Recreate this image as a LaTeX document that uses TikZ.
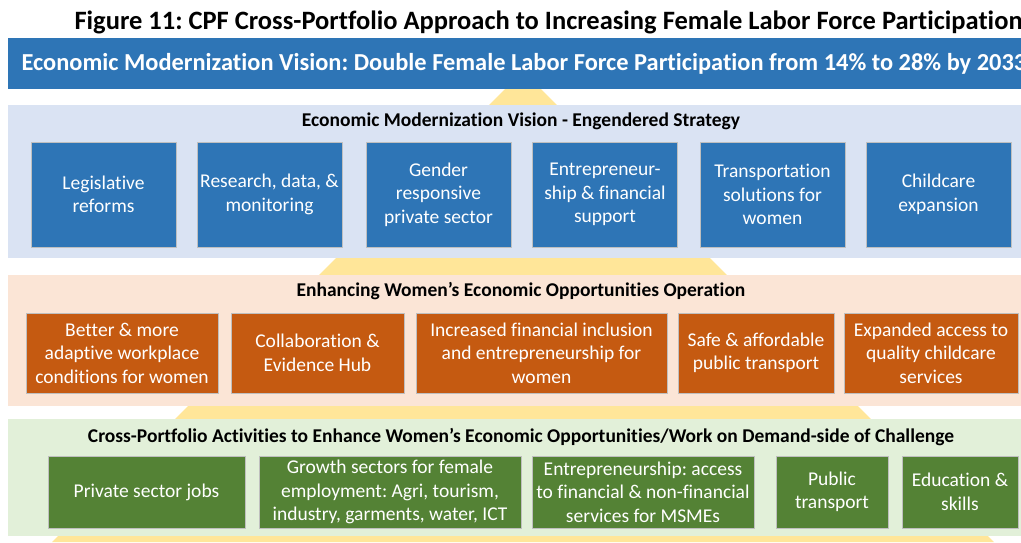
\documentclass[tikz,border=0pt]{standalone}
\usepackage{fontspec}
\setmainfont[Ligatures=NoCommon]{Carlito}
\usetikzlibrary{positioning}
\definecolor{visionblue}{HTML}{2E75B6}
\definecolor{paleblue}{HTML}{DAE3F3}
\definecolor{opsorange}{HTML}{C55A11}
\definecolor{paleorange}{HTML}{FBE5D6}
\definecolor{actgreen}{HTML}{548235}
\definecolor{palegreen}{HTML}{E2F0D9}
\definecolor{pyramid}{HTML}{FFE699}
\frenchspacing

\begin{document}
\begin{tikzpicture}[x=1pt, y=-1pt,
    panel/.style={anchor=north west, inner sep=0pt, outer sep=0pt},
    heading/.style={font=\fontsize{19.5}{22}\selectfont\bfseries},
    box/.style={draw=white!75!black, line width=0.5pt, text=white, align=center,
      inner sep=0pt, font=\fontsize{19.5}{23.5}\selectfont}]

  \clip (0,0) rectangle (1021,542);
  \fill[white] (0,0) rectangle (1021,542);

  % Pyramid behind the three layers
  \coordinate (apex) at (523,71);
  \coordinate (baseL) at (52,542);
  \coordinate (baseR) at (994,542);
  \fill[pyramid] (apex) -- (baseR) -- (baseL) -- cycle;

  % Title and vision banner
  \node[anchor=west, font=\fontsize{26.5}{30}\selectfont\bfseries] (title) at (71,22)
    {Figure 11: CPF Cross-Portfolio Approach to Increasing Female Labor Force Participation};
  \node[panel, fill=visionblue, minimum width=1020pt, minimum height=51pt] (banner) at (8,38) {};
  \node[anchor=west, text=white, font=\fontsize{24.4}{28}\selectfont\bfseries] (goal) at (18,64)
    {Economic Modernization Vision: Double Female Labor Force Participation from 14\% to 28\% by 2033};

  % Layer 1: engendered strategy
  \node[panel, fill=paleblue, minimum width=1020pt, minimum height=153pt] (strategy) at (8,105) {};
  \node[heading] (strategyT) at (521,121) {Economic Modernization Vision - Engendered Strategy};
  \foreach \x/\t [count=\i] in {103.5/{Legislative\\reforms},
      269.5/{Research, data, \&\\monitoring},
      438.5/{Gender\\responsive\\private sector},
      605/{Entrepreneur-\\ship \& financial\\support},
      772.5/{Transportation\\solutions for\\women},
      938.5/{Childcare\\expansion}}{
    \node[box, fill=visionblue, minimum width=145pt, minimum height=105pt] (vis\i) at (\x,194.5) {\t};
  }

  % Layer 2: operation
  \node[panel, fill=paleorange, minimum width=1020pt, minimum height=131pt] (operation) at (8,275) {};
  \node[heading] (operationT) at (521,291) {Enhancing Women’s Economic Opportunities Operation};
  \foreach \x/\w/\t [count=\i] in {122/192/{Better \& more\\adaptive workplace\\conditions for women},
      317.5/173/{Collaboration \&\\Evidence Hub},
      541.5/251/{Increased financial inclusion\\and entrepreneurship for\\women},
      756/156/{Safe \& affordable\\public transport},
      931/174/{Expanded access to\\quality childcare\\services}}{
    \node[box, fill=opsorange, minimum width=\w pt, minimum height=80pt] (op\i) at (\x,353) {\t};
  }

  % Layer 3: cross-portfolio activities
  \node[panel, fill=palegreen, minimum width=1020pt, minimum height=117pt] (activities) at (8,419) {};
  \node[heading] (activitiesT) at (521,437)
    {Cross-Portfolio Activities to Enhance Women’s Economic Opportunities/Work on Demand-side of Challenge};
  \foreach \x/\w/\t [count=\i] in {146.5/197/{Private sector jobs},
      390/262/{Growth sectors for female\\employment: Agri, tourism,\\industry, garments, water, ICT},
      643/222/{Entrepreneurship: access\\to financial \& non-financial\\services for MSMEs},
      832/112/{Public\\transport},
      960/116/{Education \&\\skills}}{
    \node[box, fill=actgreen, minimum width=\w pt, minimum height=72pt] (act\i) at (\x,492) {\t};
  }
\end{tikzpicture}
\end{document}
